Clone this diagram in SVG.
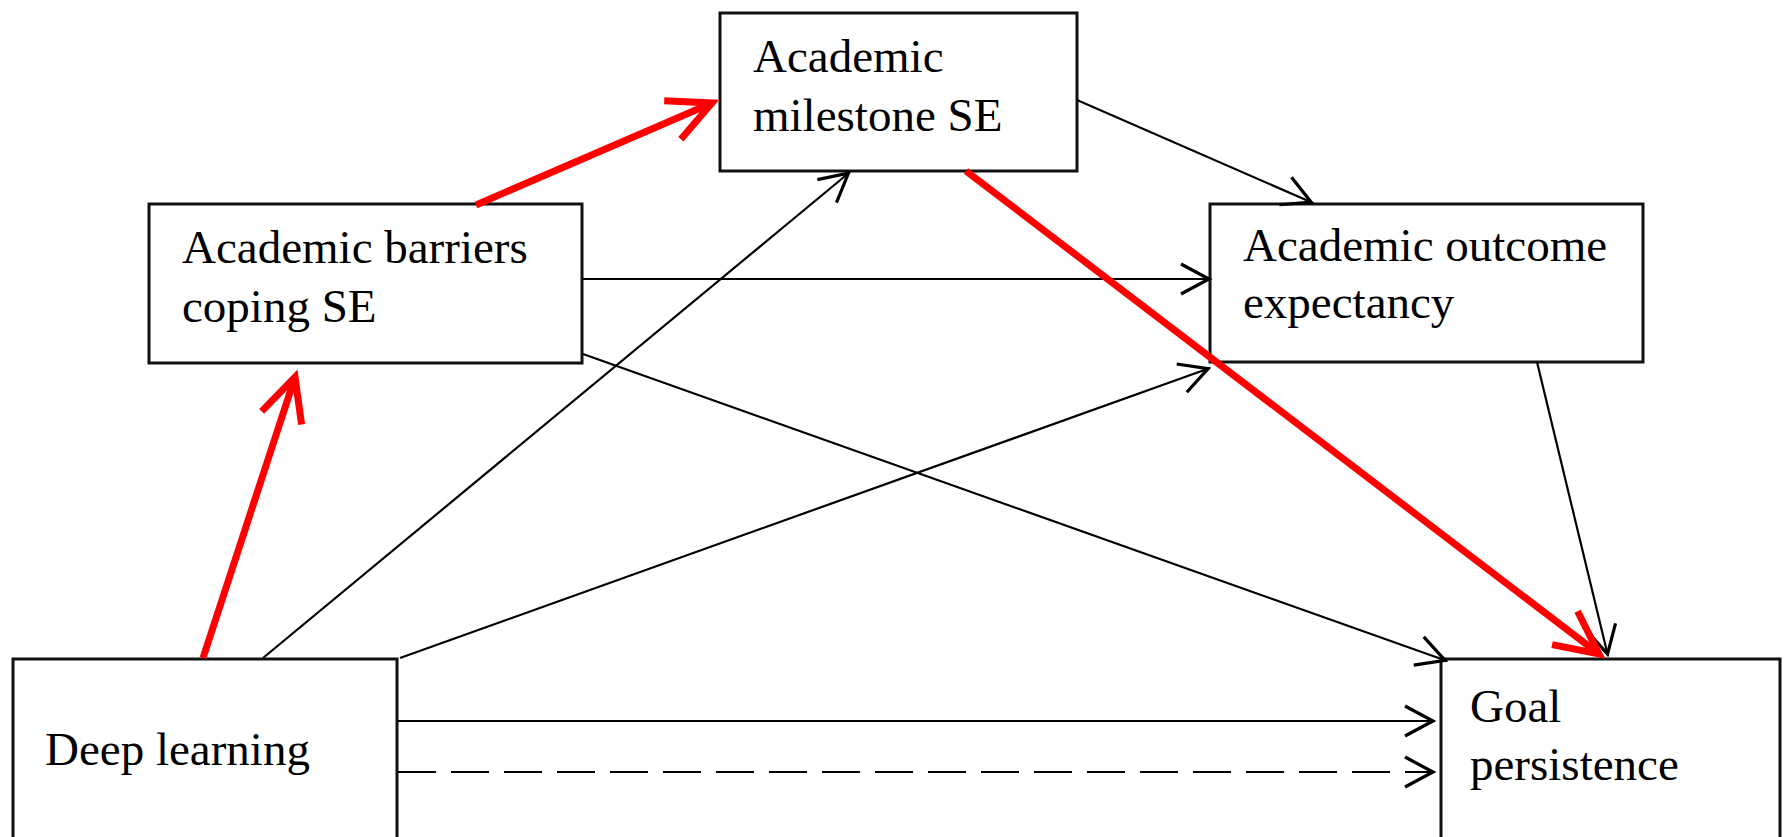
<svg xmlns="http://www.w3.org/2000/svg" width="1787" height="837" viewBox="0 0 1787 837">
  <style>
    .box { fill: #ffffff; stroke: #111111; stroke-width: 3; }
    .label { font-family: "Liberation Serif", "Times New Roman", serif; font-size: 47px; fill: #000000; }
    .edge { fill: none; stroke: #000000; stroke-width: 2.2; }
    .edge-red { fill: none; stroke: #ff0000; stroke-width: 7; }
    .dashed { stroke-dasharray: 38 15; }
  </style>
  <defs>
    <marker id="arrow-black" markerUnits="userSpaceOnUse" viewBox="-40 -20 44 40" markerWidth="44" markerHeight="40" refX="0" refY="0" orient="auto">
      <path d="M -30,-15 L -2,0 L -30,15" fill="none" stroke="#000000" stroke-width="3.2" stroke-linejoin="miter"/>
    </marker>
    <marker id="arrow-red" markerUnits="userSpaceOnUse" viewBox="-60 -30 66 60" markerWidth="66" markerHeight="60" refX="-7" refY="0" orient="auto">
      <path d="M -50,-21 L -7,0 L -50,21" fill="none" stroke="#ff0000" stroke-width="7" stroke-linejoin="miter"/>
    </marker>
  </defs>

  <!-- nodes -->
  <g id="node-deep-learning">
    <rect class="box" x="13" y="659" width="384" height="200"/>
    <text class="label" x="45" y="765">Deep learning</text>
  </g>
  <g id="node-barriers-coping">
    <rect class="box" x="149" y="204" width="433" height="159"/>
    <text class="label" x="182" y="263">Academic barriers</text>
    <text class="label" x="182" y="322">coping SE</text>
  </g>
  <g id="node-milestone">
    <rect class="box" x="720" y="13" width="357" height="158"/>
    <text class="label" x="753" y="72">Academic</text>
    <text class="label" x="753" y="131">milestone SE</text>
  </g>
  <g id="node-outcome-expectancy">
    <rect class="box" x="1210" y="204" width="433" height="158"/>
    <text class="label" x="1243" y="261">Academic outcome</text>
    <text class="label" x="1243" y="318">expectancy</text>
  </g>
  <g id="node-goal-persistence">
    <rect class="box" x="1441" y="659" width="339" height="200"/>
    <text class="label" x="1470" y="722">Goal</text>
    <text class="label" x="1470" y="780">persistence</text>
  </g>

  <!-- connectors -->
  <g id="connectors">
    <line class="edge" x1="263" y1="658" x2="850" y2="172" marker-end="url(#arrow-black)"/>
    <line class="edge" x1="400" y1="658" x2="1210" y2="368" marker-end="url(#arrow-black)"/>
    <line class="edge" x1="582" y1="279" x2="1211" y2="279" marker-end="url(#arrow-black)"/>
    <line class="edge" x1="583" y1="354" x2="1447" y2="661" marker-end="url(#arrow-black)"/>
    <line class="edge" x1="1077" y1="100" x2="1313" y2="203" marker-end="url(#arrow-black)"/>
    <line class="edge" x1="1537" y1="362" x2="1608" y2="656" marker-end="url(#arrow-black)"/>
    <line class="edge" x1="398" y1="721" x2="1435" y2="721" marker-end="url(#arrow-black)"/>
    <line class="edge dashed" x1="398" y1="772" x2="1435" y2="772" marker-end="url(#arrow-black)"/>
    <line class="edge-red" x1="203" y1="658" x2="295" y2="377" marker-end="url(#arrow-red)"/>
    <line class="edge-red" x1="476" y1="205" x2="712" y2="103" marker-end="url(#arrow-red)"/>
    <line class="edge-red" x1="966" y1="171" x2="1599" y2="654" marker-end="url(#arrow-red)"/>
  </g>
</svg>
